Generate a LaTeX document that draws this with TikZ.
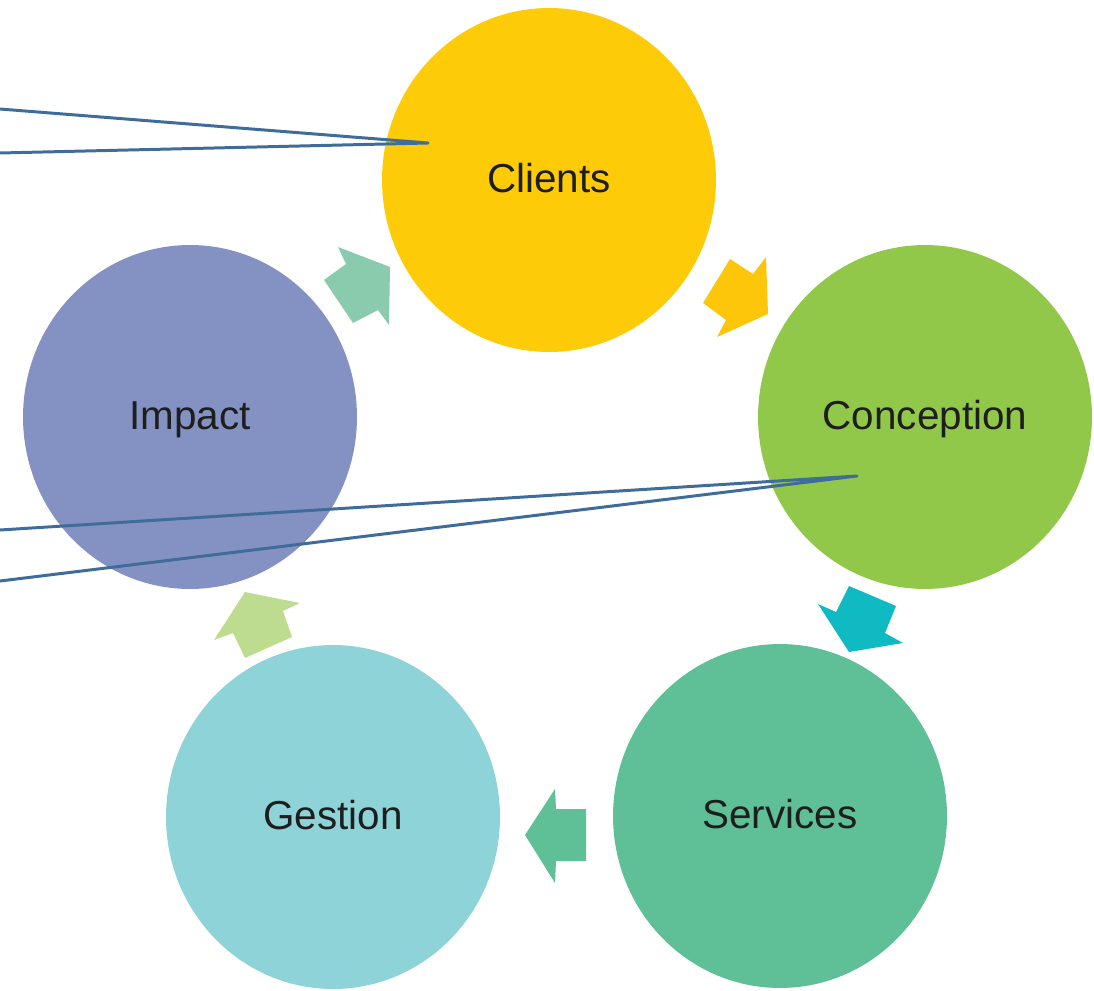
\documentclass[tikz,border=0pt]{standalone}
\usepackage{fontspec}
\setmainfont{Liberation Sans}
\usetikzlibrary{shapes.geometric}
\definecolor{cClients}{HTML}{FDCB08}
\definecolor{cConception}{HTML}{92C84A}
\definecolor{cImpact}{HTML}{8491C3}
\definecolor{cServices}{HTML}{5FBF97}
\definecolor{cGestion}{HTML}{8DD3D8}
\definecolor{aGold}{HTML}{FDC60A}
\definecolor{aMint}{HTML}{8ACBAE}
\definecolor{aTeal}{HTML}{10BAC3}
\definecolor{aGreen}{HTML}{5FBF97}
\definecolor{aLight}{HTML}{BEDC90}
\definecolor{lineblue}{HTML}{3F6C9A}
\definecolor{txt}{HTML}{1E1E1E}
\tikzset{
  bubble/.style={ellipse, draw=none, minimum width=6.68cm, minimum height=6.88cm,
    inner sep=0pt, text=txt, font=\fontsize{23}{28}\selectfont,
    text height=1.45em, text depth=0.05em},
  callout/.style={draw=lineblue, line width=1.7pt, line join=round}
}
\begin{document}
\begin{tikzpicture}[x=0.02cm,y=-0.02cm]
\useasboundingbox (0,0) rectangle (1094,990);
% circles
\node[bubble, fill=cClients] (clients) at (549,180) {Clients};
\node[bubble, fill=cConception] (conception) at (925,417) {Conception};
\node[bubble, fill=cImpact] (impact) at (190,417) {Impact};
\node[bubble, fill=cServices] (services) at (780,816) {Services};
\node[bubble, fill=cGestion] (gestion) at (333,817) {Gestion};
% block arrows
\fill[aGold] (768,314) -- (766,257) -- (753,274) -- (730,259) -- (703,303) -- (726,320) -- (717,337) -- cycle;
\fill[aMint] (390,267) -- (338,247) -- (346,264) -- (324,280) -- (353,323) -- (378,310) -- (389,325) -- cycle;
\fill[aTeal] (849,652) -- (818,604) -- (836,612) -- (849,586) -- (896,606) -- (885,633) -- (903,643) -- cycle;
\fill[aGreen] (525,835) -- (555,789) -- (556,809) -- (586,809) -- (586,861) -- (556,861) -- (555,883) -- cycle;
\fill[aLight] (245,592) -- (300,603) -- (283,611) -- (292,637) -- (245,658) -- (233,633) -- (214,640) -- cycle;
% callout lines
\coordinate (c1) at (428,143);
\coordinate (c1a) at (0,109);
\coordinate (c1b) at (0,153);
\coordinate (c2) at (857,476);
\coordinate (c2a) at (0,530);
\coordinate (c2b) at (0,581);
\draw[callout] (c1a) -- (c1) -- (c1b);
\draw[callout] (c2a) -- (c2) -- (c2b);
\end{tikzpicture}
\end{document}
